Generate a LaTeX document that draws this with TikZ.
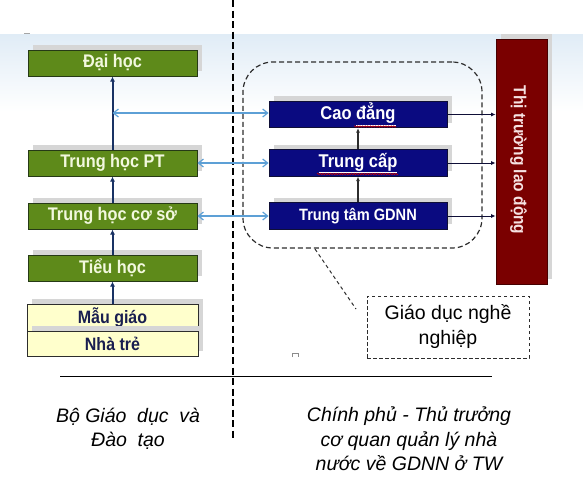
\documentclass[tikz,border=0pt]{standalone}
\usepackage{fontspec}
\usepackage{graphicx}
\setmainfont{Liberation Sans}
\usetikzlibrary{arrows.meta,shadows,decorations.pathmorphing}
\newcommand{\tallt}[1]{\scalebox{1}[1.12]{#1}}
\newcommand{\wgap}{\hspace{0.55em}}
\definecolor{grn}{RGB}{94,138,26}
\definecolor{grnb}{RGB}{38,58,22}
\definecolor{grntxt}{RGB}{242,248,222}
\definecolor{nav}{RGB}{10,10,128}
\definecolor{navb}{RGB}{15,15,55}
\definecolor{mred}{RGB}{122,0,0}
\definecolor{mredb}{RGB}{70,0,0}
\definecolor{redtxt}{RGB}{246,226,226}
\definecolor{lblue}{RGB}{93,160,214}
\definecolor{yel}{RGB}{255,255,204}
\definecolor{txtnav}{RGB}{25,30,80}
\definecolor{bandc}{RGB}{224,236,246}
\definecolor{arrnav}{RGB}{25,50,100}
\definecolor{dgray}{RGB}{45,45,45}
\begin{document}
\begin{tikzpicture}[x=1pt,y=-1pt,
  shad/.style={drop shadow={shadow xshift=5pt,shadow yshift=5pt,fill=black!16,opacity=1}},
  greenbox/.style={shad,draw=grnb,line width=1pt,fill=grn,text=grntxt,
    font=\bfseries\fontsize{16.3}{18}\selectfont,minimum width=169pt,minimum height=26pt,inner sep=0pt},
  yelbox/.style={shad,draw=dgray,line width=1pt,fill=yel,text=txtnav,
    font=\bfseries\fontsize{16}{18}\selectfont,minimum width=171pt,inner sep=0pt},
  navbox/.style={shad,draw=navb,line width=0.8pt,fill=nav,text=white,
    font=\bfseries\fontsize{16.5}{18}\selectfont,minimum width=178pt,minimum height=26.5pt,inner sep=0pt},
  upar/.style={draw=arrnav,line width=2pt,-{Latex[length=5pt,width=5pt]}},
  upsmall/.style={draw=dgray,line width=1.3pt,-{Latex[length=4.5pt,width=4pt]}},
  blar/.style={draw=lblue,line width=1.2pt,{Straight Barb[length=5pt,width=8pt]}-{Straight Barb[length=5pt,width=8pt]}},
  toar/.style={draw=navb,line width=0.9pt,-{Latex[length=4.5pt,width=4pt]}},
  squig/.style={draw=red!80!black,line width=0.6pt,decorate,decoration={snake,amplitude=0.7pt,segment length=2.6pt}},
  dashln/.style={draw=dgray,line width=1.2pt,dash pattern=on 5pt off 3pt},
  foot/.style={align=center,font=\itshape\fontsize{19.5}{24.5}\selectfont,text=black}
]
\useasboundingbox (0,0) rectangle (583,499);
\shade[top color=bandc,bottom color=white] (0,34) rectangle (583,112);
\draw[black!35,line width=0.8pt] (24,33) -- (30,33);

% divider
\coordinate (dtop) at (233,0);
\coordinate (dbot) at (233,438);
\draw[black,line width=1.8pt,dash pattern=on 7pt off 3.5pt] (dtop) -- (dbot);

% left column
\node[greenbox] (daihoc) at (112.5,63) {\tallt{Đại học}};
\node[greenbox] (thpt) at (112.5,163) {\tallt{Trung học PT}};
\node[greenbox] (thcs) at (112.5,216) {\tallt{Trung học cơ sở}};
\node[greenbox] (tieuhoc) at (112.5,268) {\tallt{Tiểu học}};
\node[yelbox,minimum height=27pt] (maugiao) at (112.5,317.5) {\tallt{Mẫu giáo}};
\node[yelbox,minimum height=25pt] (nhatre) at (112.5,343.5) {\tallt{Nhà trẻ}};

\draw[upar] (maugiao.north) -- (tieuhoc.south);
\draw[upar] (tieuhoc.north) -- (thcs.south);
\draw[upar] (thcs.north) -- (thpt.south);
\draw[upar] (thpt.north) -- (daihoc.south);

% dashed region
\node[dashln,rounded corners=30pt,minimum width=239pt,minimum height=186pt,inner sep=0pt] (area) at (362.5,155) {};

% navy boxes
\node[navbox] (caodang) at (358,114.5) {\tallt{Cao \underline{đẳng}}};
\node[navbox] (trungcap) at (358,163) {\tallt{\underline{Trung cấp}}};
\node[navbox,font=\bfseries\fontsize{14.6}{17}\selectfont] (ttgdnn) at (358,216) {\tallt{Trung tâm GDNN}};
\draw[squig] (354,126.5) -- (396,126.5);
\draw[squig] (317,174) -- (398,174);

\draw[upsmall] (ttgdnn.north) -- (trungcap.south);
\draw[upsmall] (trungcap.north) -- (caodang.south);

% red box
\node[shad,draw=mredb,line width=0.8pt,fill=mred,minimum width=51pt,minimum height=245pt,inner sep=0pt] (thitruong) at (521.5,161.5) {};
\node[rotate=-90,text=redtxt,font=\bfseries\fontsize{15.5}{18}\selectfont] (ttlabel) at (518.5,160) {\scalebox{1}[1.12]{Thị trường lao động}};

\draw[toar] (caodang.east) -- (caodang.east -| thitruong.west);
\draw[toar] (trungcap.east) -- (trungcap.east -| thitruong.west);
\draw[toar] (ttgdnn.east) -- (ttgdnn.east -| thitruong.west);

% blue links
\coordinate (j1) at (112.5,113);
\draw[blar] (j1) -- (caodang.west |- j1);
\draw[blar] (thpt.east) -- (trungcap.west);
\draw[blar] (thcs.east) -- (ttgdnn.west);

% callout
\node[draw=dgray,line width=1pt,dash pattern=on 3.5pt off 2.5pt,minimum width=162pt,minimum height=62pt,inner sep=0pt,
  align=center,font=\fontsize{19.5}{25}\selectfont] (callout) at (448,327) {Giáo dục nghề\\nghiệp};
\coordinate (cstart) at (315,249);
\coordinate (cend) at (356,309);
\draw[dgray,line width=1pt,dash pattern=on 3.5pt off 3pt] (cstart) -- (cend);

\draw[black!45,line width=0.8pt] (292,357) -- (292,353) -- (298,353) -- (298,357);

% baseline
\coordinate (hl) at (60,376);
\coordinate (hr) at (492,376);
\draw[black,line width=1pt] (hl) -- (hr);

\node[foot] (bgd) at (128,429) {Bộ Giáo\wgap dục\wgap và\\Đào\wgap tạo};
\node[foot] (cp) at (409,439) {Chính phủ - Thủ trưởng\\cơ quan quản lý nhà\\nước về GDNN ở TW};
\end{tikzpicture}
\end{document}
